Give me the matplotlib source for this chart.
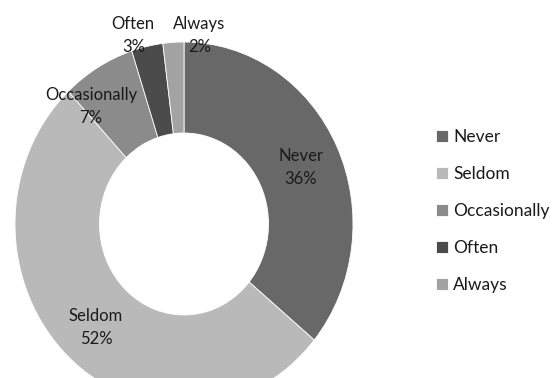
import matplotlib
matplotlib.use('Agg')
import matplotlib.pyplot as plt

plt.rcParams['font.family'] = ['Lato', 'DejaVu Sans']

categories = ['Never', 'Seldom', 'Occasionally', 'Often', 'Always']
percents = [36, 52, 7, 3, 2]
colors = ['#686868', '#b9b9b9', '#8b8b8b', '#4b4b4b', '#a3a3a3']

# where each data label sits (axes data units, ring radius = 1)
label_pos = [(0.69, 0.31), (-0.52, -0.57), (-0.55, 0.645), (-0.30, 1.035), (0.09, 1.035)]

W, H = 556, 378
fig = plt.figure(figsize=(W/100., H/100.), dpi=100)

# donut is a touch taller than wide
cx, cy, rx, ry = 184, 224, 169, 182
ax = fig.add_axes([(cx-rx)/W, (H-(cy+ry))/H, 2*rx/W, 2*ry/H])

wedges, _ = ax.pie(percents, colors=colors, startangle=90, counterclock=False,
                   radius=1.0, wedgeprops=dict(width=0.5, edgecolor='white', linewidth=0.6))
ax.set_aspect('auto')
ax.set_xlim(-1, 1)
ax.set_ylim(-1, 1)
ax.axis('off')

for name, pct, (x, y) in zip(categories, percents, label_pos):
    ax.text(x, y, '%s\n%d%%' % (name, pct), ha='center', va='center',
            fontsize=12, color='#1a1a1a', linespacing=1.5, clip_on=False)

fig.legend(wedges, categories, loc='center left', bbox_to_anchor=(436./W, 1-211./H),
           frameon=False, fontsize=12.5, handlelength=0.7, handleheight=0.7,
           handletextpad=0.3, labelspacing=1.2, borderpad=0, borderaxespad=0,
           labelcolor='#1a1a1a')

fig.savefig('out.png', dpi=100)
